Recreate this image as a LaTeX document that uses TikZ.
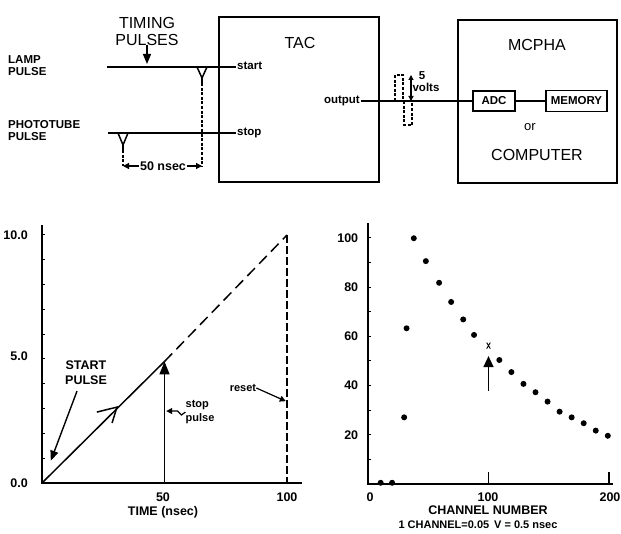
\documentclass[tikz,border=0pt]{standalone}
\usepackage{fontspec}
\setmainfont{Liberation Sans}
\usetikzlibrary{arrows.meta, positioning, calc}

\begin{document}
\begin{tikzpicture}[x=1pt, y=-1pt,
    bigbox/.style={rectangle, draw, line width=1.5pt, inner sep=0pt},
    smallbox/.style={rectangle, draw, line width=1.4pt, inner sep=0pt, font=\fontsize{11.5}{13}\selectfont\bfseries},
    heading/.style={font=\fontsize{16}{17}\selectfont, align=center, inner sep=0pt},
    lbl/.style={font=\fontsize{11.5}{12}\selectfont\bfseries, inner sep=1pt, text height=7pt, text depth=1.5pt},
    side/.style={font=\fontsize{11.5}{12}\selectfont\bfseries, align=left, anchor=west, inner sep=0pt},
    note/.style={font=\fontsize{11}{14}\selectfont\bfseries, align=left, inner sep=0pt},
    axlbl/.style={font=\fontsize{12.5}{15}\selectfont\bfseries, inner sep=0pt},
    wire/.style={line width=1.5pt},
    pulse/.style={line width=1.2pt, dash pattern=on 3pt off 1.6pt},
    arrow/.style={-{Triangle[length=10pt,width=8pt]}, line width=1.4pt},
    smallarrow/.style={-{Triangle[length=6pt,width=6pt]}, line width=1.2pt},
    axisline/.style={line width=2pt},
    dot/.style={circle, fill, inner sep=0pt, minimum size=6pt}
]
\useasboundingbox[fill=white] (0,0) rectangle (621,534);

% Timing pulses
\node[heading] (timing) at (147,31) {TIMING\\PULSES};
\node[side] (lamp) at (8,66) {LAMP\\PULSE};
\node[side] (tube) at (8,131) {PHOTOTUBE\\PULSE};

% TAC
\node[bigbox, minimum width=160pt, minimum height=165pt] (tac) at (299,99.5) {};
\node[heading] (taclbl) at (300,43) {TAC};
\node[lbl, anchor=west] (startlbl) at (236,67) {start};
\node[lbl, anchor=west] (stoplbl) at (236,133) {stop};
\node[lbl, anchor=east] (outlbl) at (361,101) {output};

% MCPHA
\node[bigbox, minimum width=159pt, minimum height=163pt] (mcpha) at (537.5,101.5) {};
\node[heading] (mcphalbl) at (537,45) {MCPHA};
\node[smallbox, minimum width=42pt, minimum height=20pt] (adc) at (494,101) {ADC};
\node[smallbox, minimum width=61pt, minimum height=21pt] (mem) at (576.5,101) {MEMORY};
\node[font=\fontsize{13}{14}\selectfont] (orlbl) at (530,127) {or};
\node[heading] (comp) at (537,155) {COMPUTER};

% Lines
\coordinate (lampin) at (107,67);
\coordinate (tubein) at (108,133);
\draw[wire] (lampin) -- (startlbl.west);
\draw[wire] (tubein) -- (stoplbl.west);
\draw[wire] (outlbl.east) -- (adc.west);
\draw[wire] (adc) -- (mem);
\draw[arrow, shorten >=3pt] (timing.south) -- (timing.south |- lampin);

% Pulses on the lines
\coordinate (lp) at (202,67);
\coordinate (lpend) at (202,83);
\coordinate (tp) at (123,133);
\coordinate (tpend) at (123,150);
\draw[wire] ($(lp)+(-5,0)$) -- ($(lp)+(0,11)$) -- ($(lp)+(5,0)$);
\draw[wire] ($(lp)+(0,11)$) -- (lpend);
\draw[wire] ($(tp)+(-5,0)$) -- ($(tp)+(0,12)$) -- ($(tp)+(5,0)$);
\draw[wire] ($(tp)+(0,12)$) -- (tpend);

\node[font=\fontsize{12.5}{13}\selectfont\bfseries, inner sep=1pt] (delay) at (163,166) {50 nsec};
\draw[pulse] (lpend) -- (lpend |- delay);
\draw[pulse] (tpend) -- (tpend |- delay);
\draw[smallarrow] (delay.west) -- (tpend |- delay);
\draw[smallarrow] (delay.east) -- (lpend |- delay);

% 5 volt output pulse
\coordinate (vtop) at (411,75);
\coordinate (vbot) at (411,101);
\draw[pulse] (395,101) -- (395,75) -- (403,75) -- (403,101);
\draw[pulse] (404,101) -- (404,125) -- (412,125) -- (412,101);
\draw[{Triangle[length=5pt,width=5pt]}-{Triangle[length=5pt,width=5pt]}, line width=1.1pt] (vtop) -- (vbot);
\node[lbl] (five) at (422,77) {5};
\node[lbl] (volts) at (426,89) {volts};

% Ramp of the TAC
\begin{scope}[shift={(42,483)}, x=2.45pt, y=24.8pt]
  \draw[axisline] (0,10.4) coordinate (ytop) -- (0,0) coordinate (orig) -- (106,0) coordinate (xend);
  \foreach \v in {1,...,10} \draw[line width=1pt] (0,\v) -- (1.4,\v);
  \coordinate (peak) at (50,4.9);
  \coordinate (full) at (100,10);
  \coordinate (resetx) at (99.5,3.3);
  \coordinate (stopx) at (50.7,2.9);
  \coordinate (startx) at (3.6,0.9);
  \draw[wire] (orig) -- (peak);
  \draw[wire, dash pattern=on 11pt off 6pt] (peak) -- (full);
  \draw[wire, dash pattern=on 8pt off 3pt] (full) -- (100,0);
  \draw[wire, -{Triangle[length=13pt,width=10pt]}] (50,0) -- (peak);
  \draw[wire] (22.4,2.86) -- (30.6,3.06) -- (28.6,2.42);
\end{scope}
\node[axlbl, anchor=east] (v0) at (28,483) {0.0};
\node[axlbl, anchor=east] (v5) at (28,356) {5.0};
\node[axlbl, anchor=east] (v10) at (28,235) {10.0};
\node[axlbl] (t50) at (163,497) {50};
\node[axlbl] (t100) at (287,497) {100};
\node[axlbl] (tlbl) at (163,512) {TIME (nsec)};

\node[axlbl, align=center] (startpulse) at (86,373) {START\\PULSE};
\draw[arrow] ([xshift=-9pt,yshift=-6pt]startpulse.south) -- (startx);
\node[note] (stoppulse) at (200,412) {stop\\pulse};
\draw[smallarrow] (stoppulse.west) -- ++(-4,3) -- ++(-4,-4) -- (stopx);
\node[note] (reset) at (243,388) {reset};
\draw[smallarrow] (reset.east) -- (resetx);

% Pulse height spectrum
\begin{scope}[shift={(368,484)}, x=1.205pt, y=2.46pt]
  \draw[axisline] (0,106) -- (0,0) coordinate (zero) -- (203,0);
  \foreach \v in {10,20,...,100} \draw[line width=1pt] (0,\v) -- (2.5,\v);
  \foreach \v in {20,40,...,100} \node[axlbl, anchor=east] at (-8,\v) {\v};
  \draw[line width=1.4pt] (100,0) -- (100,5);
  \draw[line width=1.4pt] (200,0) -- (200,5);
  \foreach \c/\n in {10.5/0.5, 20/0.5, 30/27.1, 32/63.3, 38/99.9, 48/90.6,
      59/81.8, 69/74, 79/66.9, 88/60.6, 109/50.4, 119/45.5, 129/40.7,
      139/37.3, 149/33.5, 159/29.4, 169/27.1, 179/24.7, 189/21.7, 199/19.6}
    \node[dot] at (\c,\n) {};
  \draw[line width=0.9pt] (98.5,55) -- (101.5,57.5) (98.5,57.5) -- (101.5,55);
  \coordinate (mid) at (100,52);
  \draw[line width=1.4pt, -{Triangle[length=11pt,width=10pt]}] (100,38) -- (mid);
\end{scope}
\node[axlbl] (c0) at (370,497) {0};
\node[axlbl] (c100) at (488,497) {100};
\node[axlbl] (c200) at (610,497) {200};
\node[font=\fontsize{12.5}{14}\selectfont\bfseries] (chlbl) at (488,510) {CHANNEL NUMBER};
\node[font=\fontsize{11}{13}\selectfont\bfseries] (chnote) at (478,525) {1 CHANNEL=0.05\,\ V = 0.5 nsec};
\end{tikzpicture}
\end{document}
